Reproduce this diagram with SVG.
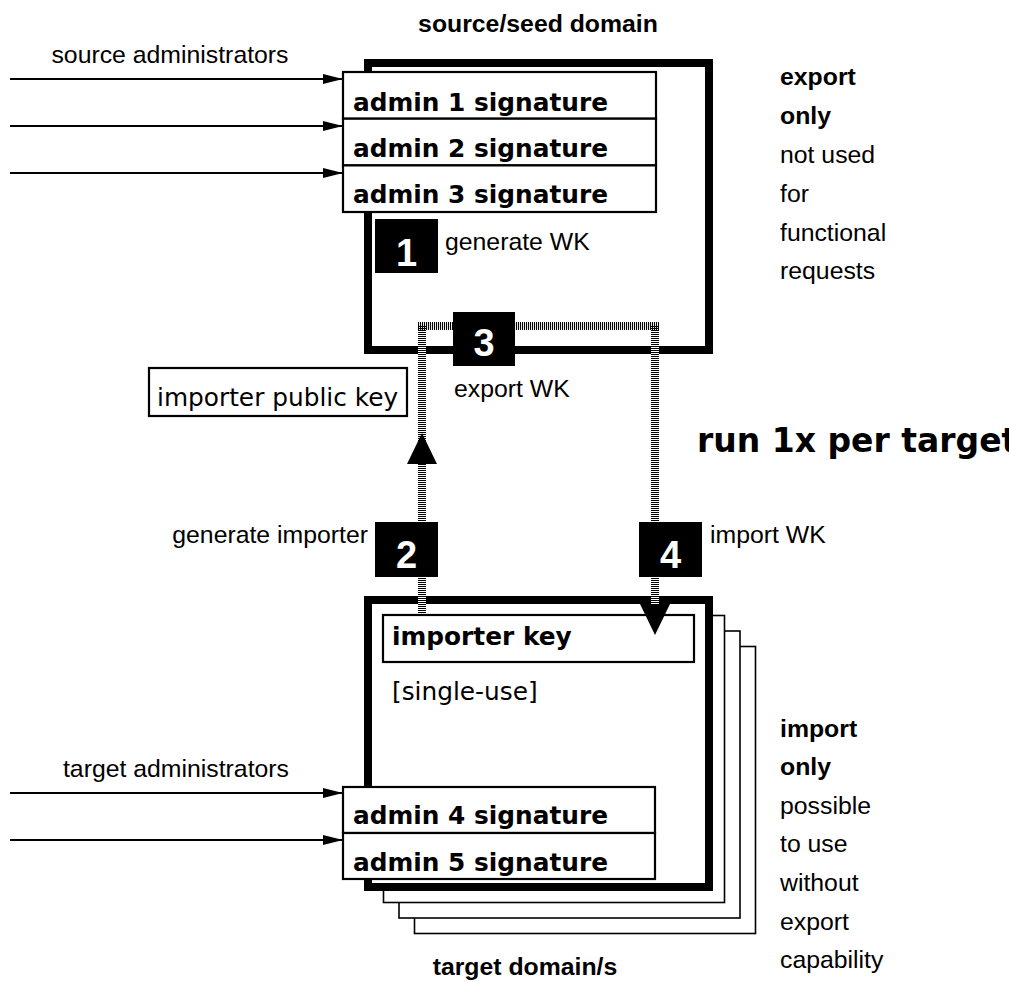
<svg xmlns="http://www.w3.org/2000/svg" width="1009" height="982" viewBox="0 0 1009 982">
  <style>
    .sans { font-family: "Liberation Sans", Arial, sans-serif; font-size: 24.8px; fill: #000; }
    .sansb { font-family: "Liberation Sans", Arial, sans-serif; font-size: 24.8px; font-weight: bold; fill: #000; }
    .dv { font-family: "DejaVu Sans", sans-serif; font-size: 24.8px; fill: #000; }
    .dvb { font-family: "DejaVu Sans", sans-serif; font-size: 24.8px; font-weight: bold; fill: #000; }
    .domain { fill: #fff; stroke: #000; stroke-width: 8; }
    .page { fill: #fff; stroke: #000; stroke-width: 1.6; }
    .row { fill: #fff; stroke: #000; stroke-width: 2.2; }
    .step { fill: #000; }
    .stepnum { font-family: "Liberation Sans", Arial, sans-serif; font-size: 38px; font-weight: bold; fill: #fff; text-anchor: middle; }
    .feed { stroke: #000; stroke-width: 1.8; fill: none; marker-end: url(#head); }
    .hatch-bg { stroke: #fff; stroke-width: 8; fill: none; }
    .hatch { stroke: #000; stroke-width: 8; stroke-dasharray: 1.1 0.9; fill: none; }
  </style>
  <defs>
    <marker id="head" markerWidth="20" markerHeight="12" refX="20" refY="6" orient="auto" markerUnits="userSpaceOnUse">
      <path d="M0,1 L20,6 L0,11 Z" fill="#000"/>
    </marker>
  </defs>

  <rect width="1009" height="982" fill="#fff"/>

  <!-- source / seed domain -->
  <g id="source-domain">
    <text class="sansb" x="538" y="32" text-anchor="middle">source/seed domain</text>
    <rect class="domain" x="368" y="63" width="341" height="287"/>
  </g>

  <!-- target domains, stacked -->
  <g id="target-domain">
    <rect class="page" x="414.5" y="646.5" width="341" height="287"/>
    <rect class="page" x="399" y="631" width="341" height="287"/>
    <rect class="page" x="383.5" y="615.5" width="341" height="287"/>
    <rect class="domain" x="368" y="600" width="341" height="287"/>
    <text class="sansb" x="525" y="975" text-anchor="middle">target domain/s</text>
  </g>

  <g id="importer-key">
    <rect class="row" x="383" y="615" width="311" height="47"/>
    <text class="dvb" x="392" y="645">importer key</text>
    <text class="dv" x="392" y="700">[single-use]</text>
  </g>

  <!-- connectors -->
  <g id="connectors">
    <line class="feed" x1="10" y1="79" x2="343" y2="79"/>
    <line class="feed" x1="10" y1="126" x2="343" y2="126"/>
    <line class="feed" x1="10" y1="173" x2="343" y2="173"/>
    <line class="feed" x1="10" y1="793" x2="343" y2="793"/>
    <line class="feed" x1="10" y1="840" x2="343" y2="840"/>

    <path class="hatch-bg" d="M422,613 V326 H655 V604"/>
    <path class="hatch" d="M422,613 V326"/>
    <path class="hatch" d="M418,326 H659"/>
    <path class="hatch" d="M655,326 V604"/>
    <polygon points="422,433 407,464 437,464" fill="#000"/>
    <polygon points="640,604 670,604 655,635" fill="#000"/>
  </g>

  <!-- signature rows -->
  <g id="source-signatures">
    <text class="sans" x="170" y="63" text-anchor="middle">source administrators</text>
    <rect class="row" x="343" y="72" width="313" height="46.7"/>
    <text class="dvb" x="353" y="111">admin 1 signature</text>
    <rect class="row" x="343" y="118.7" width="313" height="46.7"/>
    <text class="dvb" x="353" y="157">admin 2 signature</text>
    <rect class="row" x="343" y="165.4" width="313" height="46.6"/>
    <text class="dvb" x="353" y="203">admin 3 signature</text>
  </g>

  <g id="target-signatures">
    <text class="sans" x="176" y="777" text-anchor="middle">target administrators</text>
    <rect class="row" x="343" y="787" width="312" height="46"/>
    <text class="dvb" x="353" y="824">admin 4 signature</text>
    <rect class="row" x="343" y="833" width="312" height="46"/>
    <text class="dvb" x="353" y="871">admin 5 signature</text>
  </g>

  <!-- numbered steps -->
  <g id="step-1">
    <rect class="step" x="375" y="219" width="63" height="54"/>
    <text class="stepnum" x="406.5" y="266">1</text>
    <text class="sans" x="445" y="250">generate WK</text>
  </g>
  <g id="step-2">
    <rect class="step" x="375" y="522" width="63" height="55"/>
    <text class="stepnum" x="406.5" y="568">2</text>
    <text class="sans" x="368" y="543" text-anchor="end">generate importer</text>
  </g>
  <g id="step-3">
    <rect class="step" x="453" y="312" width="62" height="54"/>
    <text class="stepnum" x="484" y="356">3</text>
    <text class="sans" x="454" y="397">export WK</text>
  </g>
  <g id="step-4">
    <rect class="step" x="639" y="522" width="63" height="55"/>
    <text class="stepnum" x="670.5" y="568">4</text>
    <text class="sans" x="710" y="543">import WK</text>
  </g>

  <g id="importer-public-key">
    <rect x="149" y="368" width="258" height="48" fill="#fff" stroke="#000" stroke-width="2.2"/>
    <text class="dv" x="157" y="406">importer public key</text>
  </g>

  <g id="repeat-note">
    <text class="dvb" x="697" y="452" style="font-size:33px">run 1x per target</text>
  </g>

  <g id="export-note">
    <text class="sansb" x="780" y="85">export</text>
    <text class="sansb" x="780" y="124">only</text>
    <text class="sans" x="780" y="163">not used</text>
    <text class="sans" x="780" y="202">for</text>
    <text class="sans" x="780" y="241">functional</text>
    <text class="sans" x="780" y="279">requests</text>
  </g>

  <g id="import-note">
    <text class="sansb" x="780" y="737">import</text>
    <text class="sansb" x="780" y="775">only</text>
    <text class="sans" x="780" y="814">possible</text>
    <text class="sans" x="780" y="852">to use</text>
    <text class="sans" x="780" y="891">without</text>
    <text class="sans" x="780" y="930">export</text>
    <text class="sans" x="780" y="968">capability</text>
  </g>
</svg>
